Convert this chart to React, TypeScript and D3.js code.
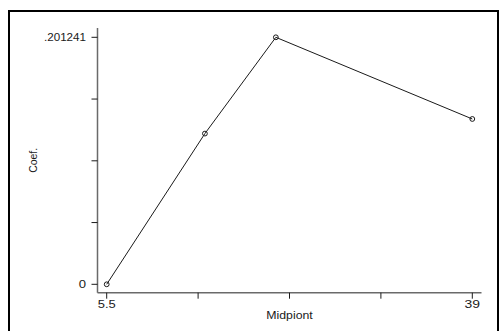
import React from "react";
import * as d3 from "d3";

// Coefficient estimates by bin midpoint
const midpoints: number[] = [5.5, 14.5, 21, 39];
const coefs: number[] = [0, 0.1228, 0.201241, 0.1347];

// Axis tick values and the labels shown on them
const xTicks: number[] = [5.5, 13.875, 22.25, 30.625, 39];
const xTickLabels: string[] = ["5.5", "", "", "", "39"];
const yTicks: number[] = [0, 0.05031025, 0.1006205, 0.15093075, 0.201241];
const yTickLabels: string[] = ["0", "", "", "", ".201241"];

const W = 500;
const H = 331;

// plot region (axis extents) and data extents inside it
const plot = { left: 97.5, right: 481.5, top: 28, bottom: 292.7 };

export default function App() {
  const x = d3.scaleLinear().domain([5.5, 39]).range([106.7, 472.3]);
  const y = d3.scaleLinear().domain([0, 0.201241]).range([284.3, 37.3]);

  const pts = midpoints.map((m, i) => [m, coefs[i]] as [number, number]);
  const line = d3
    .line<[number, number]>()
    .x((d) => x(d[0]))
    .y((d) => y(d[1]));

  const font = "'Liberation Sans', Arial, Helvetica, sans-serif";
  const ink = "#1a1a1a";
  const axisColor = "#6a6a6a";

  return (
    <svg
      width={W}
      height={H}
      style={{ position: "absolute", left: 0, top: 0, background: "#fff" }}
      fontFamily={font}
    >
      <rect x={0} y={0} width={W} height={H} fill="#fff" />
      {/* outer graph frame */}
      <rect x={9} y={11} width={489} height={340} fill="none" stroke="#000" strokeWidth={2} />

      {/* y axis */}
      <line x1={plot.left} x2={plot.left} y1={plot.top} y2={plot.bottom} stroke={axisColor} strokeWidth={1.5} />
      {yTicks.map((t, i) => (
        <g key={"yt" + i}>
          <line x1={plot.left - 6} x2={plot.left} y1={y(t)} y2={y(t)} stroke={ink} strokeWidth={1} />
          {yTickLabels[i] && (
            <text
              x={86}
              y={y(t)}
              dy="0.36em"
              textAnchor="end"
              fontSize={10.5}
              fill={ink}
              textLength={yTickLabels[i].length === 1 ? 7.3 : 42}
              lengthAdjust="spacingAndGlyphs"
            >
              {yTickLabels[i]}
            </text>
          )}
        </g>
      ))}

      {/* x axis */}
      <line x1={plot.left} x2={plot.right} y1={plot.bottom} y2={plot.bottom} stroke={axisColor} strokeWidth={1.5} />
      {xTicks.map((t, i) => (
        <g key={"xt" + i}>
          <line x1={x(t)} x2={x(t)} y1={plot.bottom} y2={plot.bottom + 6} stroke={ink} strokeWidth={1} />
          {xTickLabels[i] && (
            <text
              x={x(t)}
              y={308.3}
              textAnchor="middle"
              fontSize={10.5}
              fill={ink}
              textLength={xTickLabels[i].length === 2 ? 15.5 : 18}
              lengthAdjust="spacingAndGlyphs"
            >
              {xTickLabels[i]}
            </text>
          )}
        </g>
      ))}

      {/* axis titles */}
      <text
        x={(plot.left + plot.right) / 2}
        y={319}
        textAnchor="middle"
        fontSize={10}
        fill={ink}
        textLength={46.5}
        lengthAdjust="spacingAndGlyphs"
      >
        Midpiont
      </text>
      <text
        transform={`translate(36.5,${(plot.top + plot.bottom) / 2}) rotate(-90)`}
        textAnchor="middle"
        fontSize={10}
        fill={ink}
        textLength={25}
        lengthAdjust="spacingAndGlyphs"
      >
        Coef.
      </text>

      {/* connected series */}
      <path d={line(pts) || ""} fill="none" stroke={ink} strokeWidth={1} />
      {pts.map((p, i) => (
        <circle key={"pt" + i} cx={x(p[0])} cy={y(p[1])} r={2.4} fill="none" stroke={ink} strokeWidth={1} />
      ))}
    </svg>
  );
}
